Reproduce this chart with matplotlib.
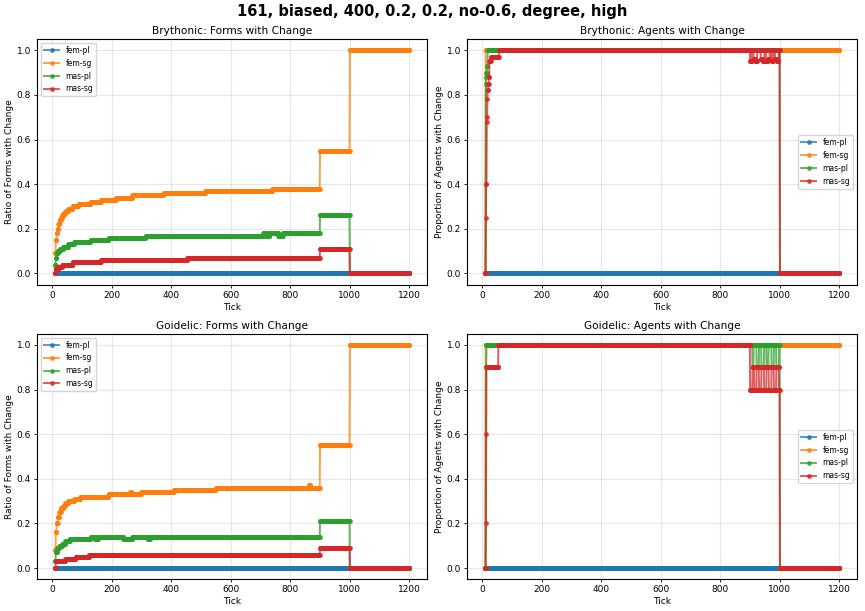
import numpy as np
import matplotlib
matplotlib.use("Agg")
import matplotlib.pyplot as plt

# simulation ticks
first_tick = 10
last_tick = 1200

series_names = ["fem-pl", "fem-sg", "mas-pl", "mas-sg"]

# piecewise-constant values: (tick where value starts, value)
bry_forms = {
    "fem-pl": [(10, 0.0)],
    "fem-sg": [(10, 0.09), (13, 0.15), (16, 0.18), (19, 0.20), (22, 0.22), (26, 0.24),
               (30, 0.25), (35, 0.26), (40, 0.27), (46, 0.28), (55, 0.29), (70, 0.30),
               (90, 0.31), (130, 0.32), (165, 0.33), (215, 0.34), (270, 0.35),
               (375, 0.36), (515, 0.37), (740, 0.38), (900, 0.55), (1000, 1.0)],
    "mas-pl": [(10, 0.04), (13, 0.07), (16, 0.09), (20, 0.10), (27, 0.11), (38, 0.12),
               (55, 0.13), (75, 0.14), (130, 0.15), (190, 0.16), (315, 0.17),
               (710, 0.18), (720, 0.17), (730, 0.18), (760, 0.17), (775, 0.18),
               (900, 0.26), (1000, 0.0)],
    "mas-sg": [(10, 0.0), (12, 0.02), (22, 0.03), (35, 0.04), (70, 0.05), (165, 0.06),
               (455, 0.07), (900, 0.11), (1000, 0.0)],
}

bry_agents = {
    "fem-pl": [(10, 0.0)],
    "fem-sg": [(10, 0.0), (12, 1.0)],
    "mas-pl": [(10, 0.0), (13, 0.85), (14, 0.88), (15, 0.90), (17, 0.93), (19, 1.0),
               (1000, 0.0)],
    "mas-sg": [(10, 0.0), (13, 0.25), (14, 0.40), (16, 0.68), (17, 0.70), (18, 0.78),
               (19, 0.82), (21, 0.85), (23, 0.88), (25, 0.95), (30, 0.97), (57, 1.0),
               (900, 0.95), (906, 1.0), (912, 0.96), (918, 0.95), (924, 1.0),
               (936, 0.96), (942, 0.95), (948, 1.0), (954, 0.95), (960, 0.96),
               (966, 1.0), (972, 0.95), (978, 1.0), (984, 0.96), (990, 0.95),
               (996, 1.0), (1000, 0.0)],
}

goi_forms = {
    "fem-pl": [(10, 0.0)],
    "fem-sg": [(10, 0.08), (13, 0.16), (16, 0.20), (20, 0.23), (25, 0.25), (30, 0.27),
               (38, 0.28), (45, 0.29), (55, 0.30), (75, 0.31), (95, 0.32), (190, 0.33),
               (263, 0.34), (268, 0.33), (300, 0.34), (410, 0.35), (550, 0.36),
               (862, 0.37), (868, 0.36), (900, 0.55), (1000, 1.0)],
    "mas-pl": [(10, 0.03), (13, 0.07), (18, 0.09), (25, 0.10), (35, 0.11), (45, 0.12),
               (60, 0.13), (130, 0.14), (145, 0.13), (155, 0.14), (240, 0.13),
               (270, 0.14), (322, 0.13), (330, 0.14), (900, 0.21), (1000, 0.0)],
    "mas-sg": [(10, 0.0), (13, 0.03), (45, 0.04), (80, 0.05), (125, 0.06), (900, 0.09),
               (1000, 0.0)],
}

goi_agents = {
    "fem-pl": [(10, 0.0)],
    "fem-sg": [(10, 0.0), (12, 1.0)],
    "mas-pl": [(10, 0.0), (13, 0.9), (15, 1.0), (908, 0.9), (912, 1.0), (922, 0.9),
               (930, 1.0), (938, 0.9), (947, 1.0), (955, 0.9), (962, 1.0), (972, 0.9),
               (980, 1.0), (988, 0.9), (997, 1.0), (1000, 0.0)],
    "mas-sg": [(10, 0.0), (13, 0.2), (14, 0.6), (15, 0.9), (55, 1.0), (900, 0.8),
               (908, 0.9), (914, 0.8), (922, 0.9), (930, 0.8), (938, 0.9), (947, 0.8),
               (955, 0.9), (963, 0.8), (972, 0.9), (980, 0.8), (988, 0.9), (997, 0.8),
               (1000, 0.0)],
}

ticks = np.arange(first_tick, last_tick + 1)


def expand(changes):
    ''' hold each read value until the next change point '''
    starts = [c[0] for c in changes] + [last_tick + 1]
    vals = [c[1] for c in changes]
    lengths = np.diff(starts)
    return np.repeat(vals, lengths)


panels = [
    (bry_forms, "Brythonic: Forms with Change", "Ratio of Forms with Change", "upper left"),
    (bry_agents, "Brythonic: Agents with Change", "Proportion of Agents with Change", "center right"),
    (goi_forms, "Goidelic: Forms with Change", "Ratio of Forms with Change", "upper left"),
    (goi_agents, "Goidelic: Agents with Change", "Proportion of Agents with Change", "center right"),
]

fig, axes = plt.subplots(2, 2, figsize=(8.65, 6.11), dpi=100)

for ax, (data, title, ylabel, loc) in zip(axes.flat, panels):
    for name in series_names:
        ax.plot(ticks, expand(data[name]), marker='.', markersize=5,
                linewidth=1.4, alpha=0.75, label=name)
    ax.set_title(title, fontsize=7.6, pad=3.5)
    ax.set_xlabel("Tick", fontsize=6.5, labelpad=2)
    ax.set_ylabel(ylabel, fontsize=6.5, labelpad=2)
    ax.tick_params(labelsize=6.5, length=2.5, width=0.6, pad=2)
    ax.grid(True, alpha=0.3)
    ax.legend(loc=loc, fontsize=5.5)

fig.suptitle("161, biased, 400, 0.2, 0.2, no-0.6, degree, high",
             fontsize=10.5, fontweight='bold', y=0.993)
fig.subplots_adjust(left=0.043, right=0.991, top=0.936, bottom=0.052,
                    wspace=0.103, hspace=0.2)
fig.savefig("out.png", dpi=100)
